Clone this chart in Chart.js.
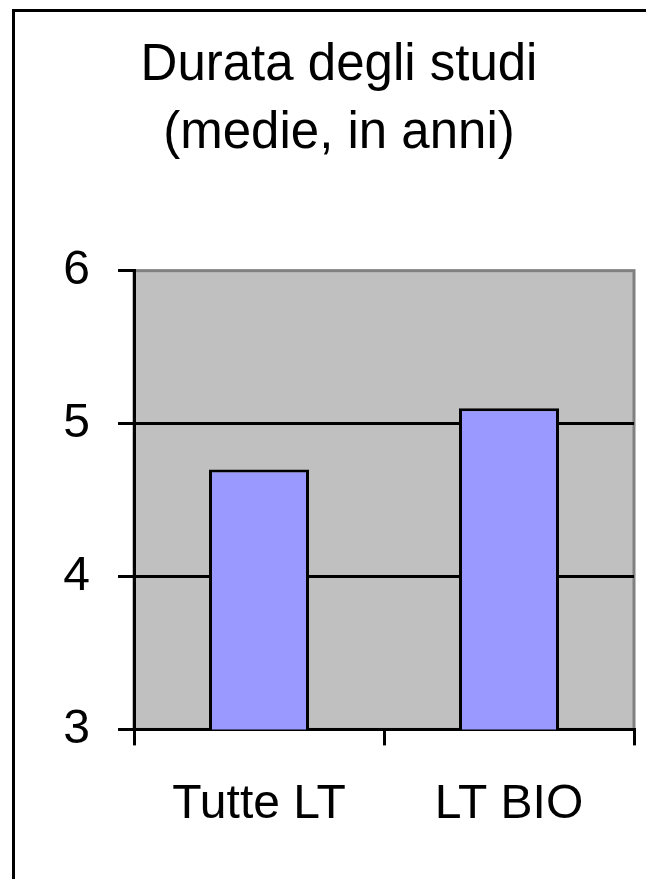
<!DOCTYPE html>
<html>
<head>
<meta charset="utf-8">
<script src="https://cdn.jsdelivr.net/npm/chart.js@4/dist/chart.umd.min.js"></script>
<style>
  html, body { margin: 0; padding: 0; background: #fff; }
  #wrap { position: absolute; left: 0; top: 0; width: 646px; height: 879px; }
</style>
</head>
<body>
<div id="wrap"><canvas id="c" width="646" height="879"></canvas></div>
<script>
const titleLines = ['Durata degli studi', '(medie, in anni)'];
const categories = ['Tutte LT', 'LT BIO'];
const values = [4.7, 5.1];
const yMin = 3, yMax = 6, yStep = 1;

const FONT = "'Liberation Sans', Arial, Helvetica, sans-serif";

const framePlugin = {
  id: 'frame',
  beforeDraw(chart) {
    const ctx = chart.ctx;
    const a = chart.chartArea;
    ctx.save();
    ctx.strokeStyle = '#000';
    ctx.lineWidth = 3;
    ctx.strokeRect(13.5, 10.5, 700, 900);
    ctx.fillStyle = '#C0C0C0';
    ctx.fillRect(a.left, a.top, a.right - a.left, a.bottom - a.top);
    ctx.strokeStyle = '#808080';
    ctx.lineWidth = 3;
    ctx.strokeRect(a.left, a.top, a.right - a.left, a.bottom - a.top);
    ctx.restore();
  }
};

new Chart(document.getElementById('c'), {
  type: 'bar',
  data: {
    labels: categories,
    datasets: [{
      data: values,
      backgroundColor: '#9999FF',
      borderColor: '#000',
      borderWidth: 3,
      borderSkipped: 'bottom',
      barPercentage: 0.4,
      categoryPercentage: 1.0
    }]
  },
  options: {
    responsive: false,
    animation: false,
    devicePixelRatio: 1,
    layout: { autoPadding: false, padding: { left: 44, right: 12, top: 32, bottom: 14 } },
    plugins: {
      legend: { display: false },
      tooltip: { enabled: false },
      title: {
        display: true,
        text: titleLines,
        color: '#000',
        font: { family: FONT, size: 51, weight: 'normal', lineHeight: 1.33 },
        padding: { top: 0, bottom: 103 }
      }
    },
    scales: {
      x: {
        grid: { display: true, drawOnChartArea: false, drawTicks: true, tickLength: 16, color: '#000', lineWidth: 3, offset: true },
        border: { display: true, color: '#000', width: 3 },
        ticks: { color: '#000', padding: 31, font: { family: FONT, size: 48, lineHeight: 1.2 }, maxRotation: 0 }
      },
      y: {
        min: yMin, max: yMax,
        afterFit(scale) { scale.width = 90; },
        grid: {
          drawOnChartArea: true, drawTicks: true, tickLength: 16,
          color: (c) => (c.tick && c.tick.value === yMax) ? 'rgba(0,0,0,0)' : '#000',
          tickColor: '#000',
          lineWidth: 3
        },
        border: { display: true, color: '#000', width: 3 },
        ticks: { stepSize: yStep, color: '#000', padding: 28, font: { family: FONT, size: 48 } }
      }
    }
  },
  plugins: [framePlugin]
});
</script>
</body>
</html>
